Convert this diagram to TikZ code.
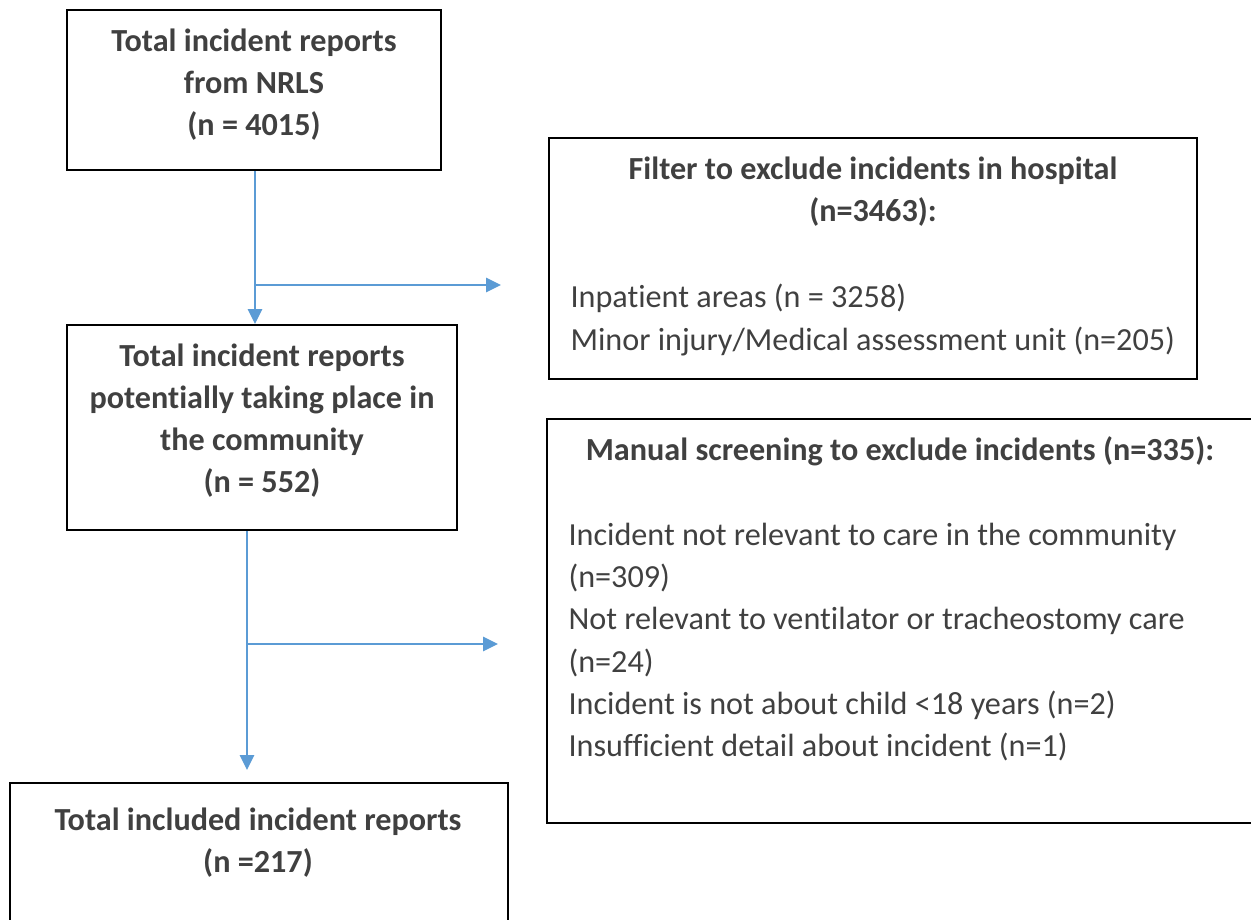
\documentclass[tikz,border=0pt]{standalone}
\usepackage{fontspec}
\setmainfont{Carlito}[Ligatures=NoCommon]
\usetikzlibrary{arrows.meta,fit}
\definecolor{flowblue}{HTML}{5B9BD5}
\definecolor{txtgray}{HTML}{404040}
\begin{document}
\begin{tikzpicture}[
    x=0.376pt, y=-0.376pt,
    box/.style={rectangle,draw,line width=0.8pt,inner sep=0pt},
    title/.style={align=center,text=txtgray,font=\fontsize{12.1}{15.8}\selectfont\bfseries},
    items/.style={align=left,anchor=west,inner sep=0pt,text=txtgray,font=\fontsize{12.1}{15.9}\selectfont},
    flow/.style={draw=flowblue,line width=0.6pt,-{Triangle[length=5.6pt,width=5.4pt]}}
]
    \useasboundingbox (0,0) rectangle (1251,920);
    \clip (0,0) rectangle (1251,920);

    % Define boxes
    \node[box,fit={(67,10) (441,170)}] (nrls) {};
    \node[box,fit={(549,138) (1197,379)}] (hosp) {};
    \node[box,fit={(67,325) (457,530)}] (comm) {};
    \node[box,fit={(547,419) (1255,823)}] (screen) {};
    \node[box,fit={(10,783) (508,925)}] (incl) {};

    % Texts
    \node[title] (nrlstxt) at (254,85) {Total incident reports\\from NRLS\\(n = 4015)};
    \node[title] (hosptxt) at (873,192) {Filter to exclude incidents in hospital\\(n=3463):};
    \node[items] (hospitems) at (570,320) {Inpatient areas (n = 3258)\\Minor injury/Medical assessment unit (n=205)};
    \node[title] (commtxt) at (262,421) {Total incident reports\\potentially taking place in\\the community\\(n = 552)};
    \node[title] (screentxt) at (900,451) {Manual screening to exclude incidents (n=335):};
    \node[items] (screenitems) at (568,642) {Incident not relevant to care in the community\\(n=309)\\Not relevant to ventilator or tracheostomy care\\(n=24)\\Incident is not about child <18 years (n=2)\\Insufficient detail about incident (n=1)};
    \node[title] (incltxt) at (258,843) {Total included incident reports\\(n =217)};

    % Free ends of the connectors
    \coordinate (split1) at (255,285);
    \coordinate (out1) at (501,285);
    \coordinate (split2) at (247,644);
    \coordinate (out2) at (498,644);
    \coordinate (in2) at (247,770);

    % Draw arrows
    \draw[flow] (nrls.south -| split1) -- (comm.north -| split1);
    \draw[flow] (split1) -- (out1);
    \draw[flow] (comm.south -| split2) -- (in2);
    \draw[flow] (split2) -- (out2);
\end{tikzpicture}
\end{document}
